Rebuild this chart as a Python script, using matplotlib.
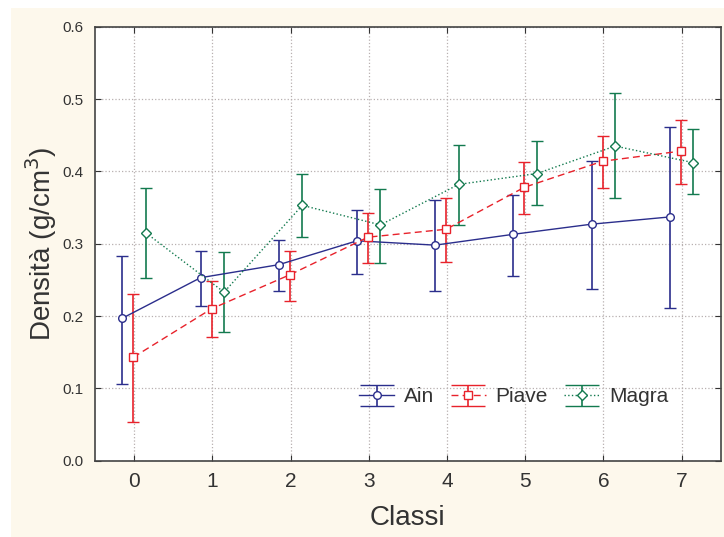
import numpy as np
import matplotlib.pyplot as plt
from matplotlib.patches import Rectangle
from matplotlib.lines import Line2D

plt.rcParams['font.family'] = ['Liberation Sans', 'DejaVu Sans']

classi = [0, 1, 2, 3, 4, 5, 6, 7]

ain_mean = [0.197, 0.253, 0.271, 0.304, 0.298, 0.313, 0.327, 0.337]
ain_hi = [0.283, 0.290, 0.305, 0.347, 0.360, 0.368, 0.414, 0.461]
ain_lo = [0.106, 0.214, 0.235, 0.258, 0.234, 0.256, 0.238, 0.211]

piave_mean = [0.143, 0.210, 0.257, 0.309, 0.320, 0.378, 0.414, 0.428]
piave_hi = [0.231, 0.249, 0.290, 0.342, 0.363, 0.413, 0.449, 0.471]
piave_lo = [0.054, 0.171, 0.221, 0.274, 0.275, 0.341, 0.377, 0.383]

magra_mean = [0.315, 0.233, 0.353, 0.326, 0.382, 0.397, 0.435, 0.412]
magra_hi = [0.377, 0.289, 0.397, 0.376, 0.437, 0.442, 0.508, 0.458]
magra_lo = [0.253, 0.178, 0.309, 0.274, 0.326, 0.353, 0.363, 0.369]

series = [
    ('Ain', ain_mean, ain_lo, ain_hi, '#2b2e8c', 'o', '-', -0.15),
    ('Piave', piave_mean, piave_lo, piave_hi, '#e8222b', 's', (0, (5, 3)), -0.01),
    ('Magra', magra_mean, magra_lo, magra_hi, '#137a4f', 'D', ':', 0.15),
]

fig = plt.figure(figsize=(7.24, 5.37), dpi=100)
fig.patches.append(Rectangle((11 / 724, 0), 1, 1 - 8 / 537, transform=fig.transFigure,
                             facecolor='#fdf8ec', edgecolor='none', zorder=-10))
ax = fig.add_axes([95 / 724, 1 - 460.7 / 537, (720.7 - 95) / 724, (460.7 - 26.7) / 537])

x = np.array(classi, dtype=float)
for name, m, lo, hi, c, mk, ls, off in series:
    m = np.array(m)
    err = [m - np.array(lo), np.array(hi) - m]
    ax.errorbar(x + off, m, yerr=err, color=c, linestyle=ls, linewidth=1.0,
                marker=mk, markersize=5.5 if mk != 'D' else 4.8,
                markerfacecolor='white', markeredgecolor=c, markeredgewidth=1.0,
                capsize=4.5, capthick=1.2, elinewidth=1.2, label=name)

ax.set_xlim(-0.5, 7.5)
ax.set_ylim(0, 0.6)
ax.set_xticks(classi)
ax.set_yticks(np.arange(0, 0.61, 0.1))
ax.set_yticklabels(['%.1f' % v for v in np.arange(0, 0.61, 0.1)])
ax.grid(True, linestyle=':', color='#b8b0b0', linewidth=0.9)
ax.set_axisbelow(True)
ax.tick_params(axis='x', direction='in', length=4, labelsize=15, colors='#333333',
               top=True, pad=8)
ax.tick_params(axis='y', direction='in', length=4, labelsize=11, colors='#333333',
               right=True, pad=8)
for s in ax.spines.values():
    s.set_color('#444444')
    s.set_linewidth(1.2)

ax.set_xlabel('Classi', fontsize=20, color='#333333', labelpad=10)
ax.set_ylabel('Densità (g/cm$^3$)', fontsize=20, color='#333333', labelpad=3)

leg = ax.legend(loc='center', bbox_to_anchor=(0.669, 0.147), ncol=3, frameon=False,
                fontsize=15, handlelength=1.7, columnspacing=0.8, handletextpad=0.45)
for t in leg.get_texts():
    t.set_color('#333333')
# wide caps in the legend, like the original
for ln in leg.findobj(Line2D):
    if ln.get_marker() == '_':
        ln.set_markersize(25)

fig.savefig('out.png', dpi=100)
